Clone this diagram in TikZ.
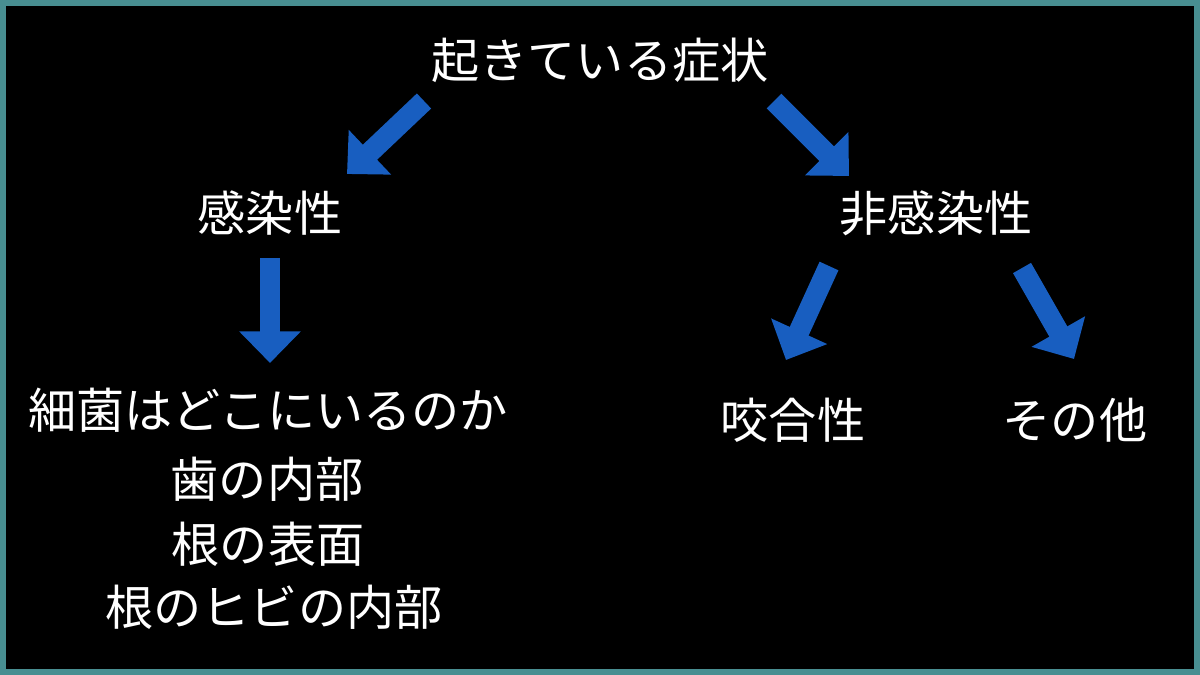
\documentclass[tikz,border=0pt]{standalone}
\usepackage{fontspec}
\setmainfont{Noto Sans CJK JP}
\usepackage{tikz}
\usetikzlibrary{arrows.meta}

\definecolor{frameteal}{RGB}{72,142,145}
\definecolor{arrowblue}{RGB}{24,94,192}

\tikzset{
    txt/.style={text=white, font=\fontsize{27.4pt}{31pt}\selectfont, inner sep=0pt},
    blockarrow/.style={draw=arrowblue, line width=11.8pt,
        -{Triangle[width=34pt,length=18pt]}}
}

\begin{document}
\begin{tikzpicture}[x=0.02cm, y=-0.02cm]

            \useasboundingbox (0, 0) rectangle (1200, 675);
            \draw[frameteal, line width=4.5pt, fill=black] (2, 2) rectangle (1198, 673);

            %top
            \node[txt] (top) at (600, 60) {起きている症状};

            %second row
            \node[txt] (inf) at (270, 213) {感染性};
            \node[txt] (noninf) at (936, 213) {非感染性};

            %infection list
            \node[txt] (where) at (268, 410) {細菌はどこにいるのか};
            \node[txt] (l1) at (267, 479) {歯の内部};
            \node[txt] (l2) at (268, 544) {根の表面};
            \node[txt] (l3) at (274, 607) {根のヒビの内部};

            %non infection
            \node[txt] (occ) at (793, 420) {咬合性};
            \node[txt] (other) at (1075, 420) {その他};

            %arrow ends
            \coordinate (a1s) at (424, 101);
            \coordinate (a1e) at (347, 174);
            \coordinate (a2s) at (774, 101);
            \coordinate (a2e) at (849, 176);
            \coordinate (a3s) at (270, 258);
            \coordinate (a3e) at (270, 363);
            \coordinate (a4s) at (829, 266);
            \coordinate (a4e) at (786, 360);
            \coordinate (a5s) at (1022, 268);
            \coordinate (a5e) at (1074, 359);

            %arrows
            \foreach \a in {1,...,5}{
                \draw[blockarrow] (a\a s) -- (a\a e);
            };

        \end{tikzpicture}
\end{document}
